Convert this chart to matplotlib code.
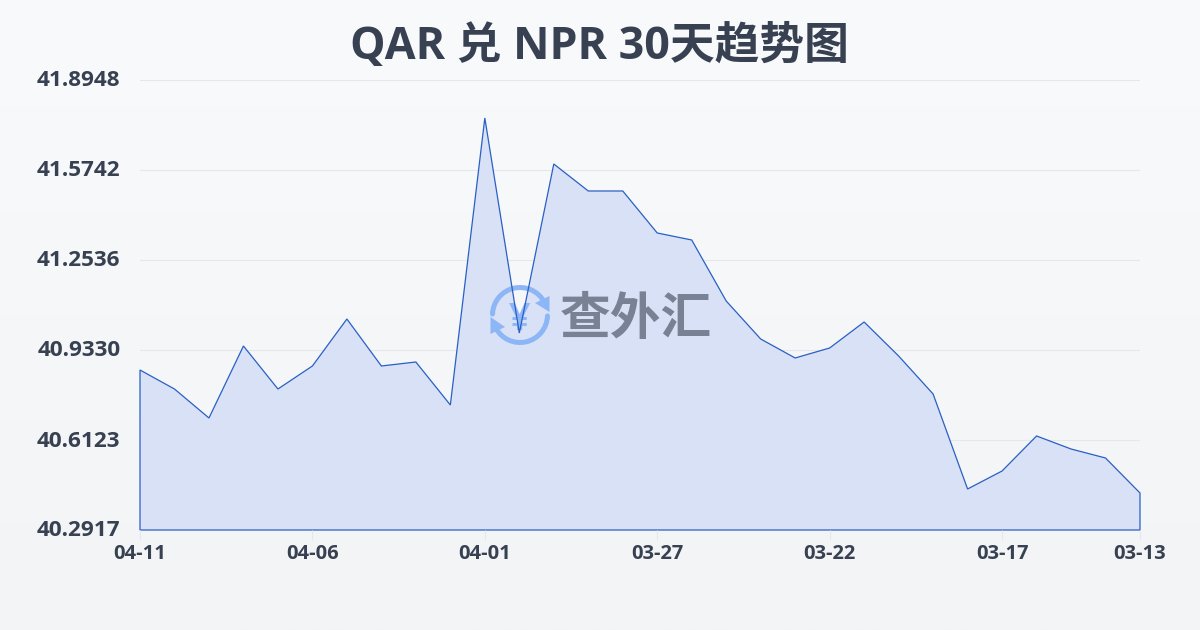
import numpy as np
import matplotlib
matplotlib.use("Agg")
import matplotlib.pyplot as plt
from matplotlib.colors import LinearSegmentedColormap
from matplotlib.patches import Arc, Polygon
from matplotlib.transforms import ScaledTranslation

plt.rcParams['font.family'] = ['Open Sans', 'Noto Sans CJK SC', 'DejaVu Sans']

dates = ["04-11", "04-10", "04-09", "04-08", "04-07", "04-06", "04-05", "04-04", "04-03", "04-02",
         "04-01", "03-31", "03-30", "03-29", "03-28", "03-27", "03-26", "03-25", "03-24", "03-23",
         "03-22", "03-21", "03-20", "03-19", "03-18", "03-17", "03-16", "03-15", "03-14", "03-13"]
rates = [40.8617, 40.7940, 40.6907, 40.9472, 40.7940, 40.8760, 41.0434, 40.8760, 40.8902, 40.7370,
         41.7594, 40.9935, 41.5956, 41.4994, 41.4994, 41.3498, 41.3248, 41.1075, 40.9721, 40.9045,
         40.9401, 41.0327, 40.9116, 40.7762, 40.4378, 40.5019, 40.6266, 40.5803, 40.5482, 40.4235]
y_ticks = [40.2917, 40.6123, 40.9330, 41.2536, 41.5742, 41.8948]
x_labelled = ["04-11", "04-06", "04-01", "03-27", "03-22", "03-17", "03-13"]

TEXT = "#374151"
LINE = "#2a60c4"
ICON = "#8db6f6"
x = np.arange(len(dates))
plot_rect = [140 / 1200, 1 - 530 / 630, 1000 / 1200, 450 / 630]

fig = plt.figure(figsize=(12, 6.3), dpi=100)

# page background
bg = fig.add_axes([0, 0, 1, 1], zorder=0)
bg.imshow(np.linspace(0, 1, 256).reshape(-1, 1), aspect="auto", extent=(0, 1, 0, 1),
          cmap=LinearSegmentedColormap.from_list("page", ["#f9fafc", "#f3f4f6"]))
bg.axis("off")

# grid and area go below the watermark
under = fig.add_axes(plot_rect, zorder=1)
under.patch.set_alpha(0)
under.set_xlim(0, len(dates) - 1)
under.set_ylim(y_ticks[0], y_ticks[-1])
under.set_yticks(y_ticks)
under.set_xticks([])
under.tick_params(axis="y", length=0, labelleft=False)
under.grid(axis="y", color="#e4e7ec", lw=0.8)
under.set_axisbelow(True)
for s in under.spines.values():
    s.set_visible(False)
under.fill_between(x, rates, y_ticks[0], facecolor="#d7e0f5", edgecolor="none", alpha=0.95)

# watermark, in pixel coordinates
wm = fig.add_axes([0, 0, 1, 1], zorder=2)
wm.set_xlim(0, 1200)
wm.set_ylim(630, 0)
wm.axis("off")
wm.add_patch(Arc((520, 315), 55, 55, theta1=182, theta2=332, color=ICON, lw=3.6, capstyle="round"))
wm.add_patch(Arc((520, 315), 55, 55, theta1=2, theta2=152, color=ICON, lw=3.6, capstyle="round"))
wm.add_patch(Polygon([(549.5, 312), (549.5, 296), (535, 303)], color=ICON, lw=0))
wm.add_patch(Polygon([(490.5, 317), (490.5, 334), (505, 327)], color=ICON, lw=0))
wm.text(520, 320, "¥", ha="center", va="center", fontsize=27, fontweight="bold", color=ICON)
wm.text(636, 321, "查外汇", ha="center", va="center", fontsize=36.5, fontweight="bold", color="#798294")

# line and labels on top
ax = fig.add_axes(plot_rect, zorder=3)
ax.patch.set_visible(False)
ax.set_xlim(0, len(dates) - 1)
ax.set_ylim(y_ticks[0], y_ticks[-1])
for s in ax.spines.values():
    s.set_visible(False)
ax.fill(list(x) + [x[-1], x[0]], rates + [y_ticks[0], y_ticks[0]], facecolor="none",
        edgecolor=LINE, lw=0.9, clip_on=False)

ax.set_yticks(y_ticks)
ax.set_yticklabels([f"{v:.4f}" for v in y_ticks], fontsize=16.2, fontweight="bold", color=TEXT)
ax.tick_params(axis="y", length=0, pad=14)
lift = ScaledTranslation(0, 1.5 / 100, fig.dpi_scale_trans)
for lab in ax.get_yticklabels():
    lab.set_transform(lab.get_transform() + lift)
ax.set_xticks([dates.index(d) for d in x_labelled])
ax.set_xticklabels(x_labelled, fontsize=14.5, fontweight="bold", color=TEXT)
ax.tick_params(axis="x", length=7, width=0.8, color="#e4e7ec", pad=3)

fig.text(0.4995, 1 - 47.5 / 630, "QAR 兑 NPR 30天趋势图", ha="center", va="center",
         fontsize=32.2, fontweight="bold", color=TEXT)

fig.savefig("out.png", dpi=100)
